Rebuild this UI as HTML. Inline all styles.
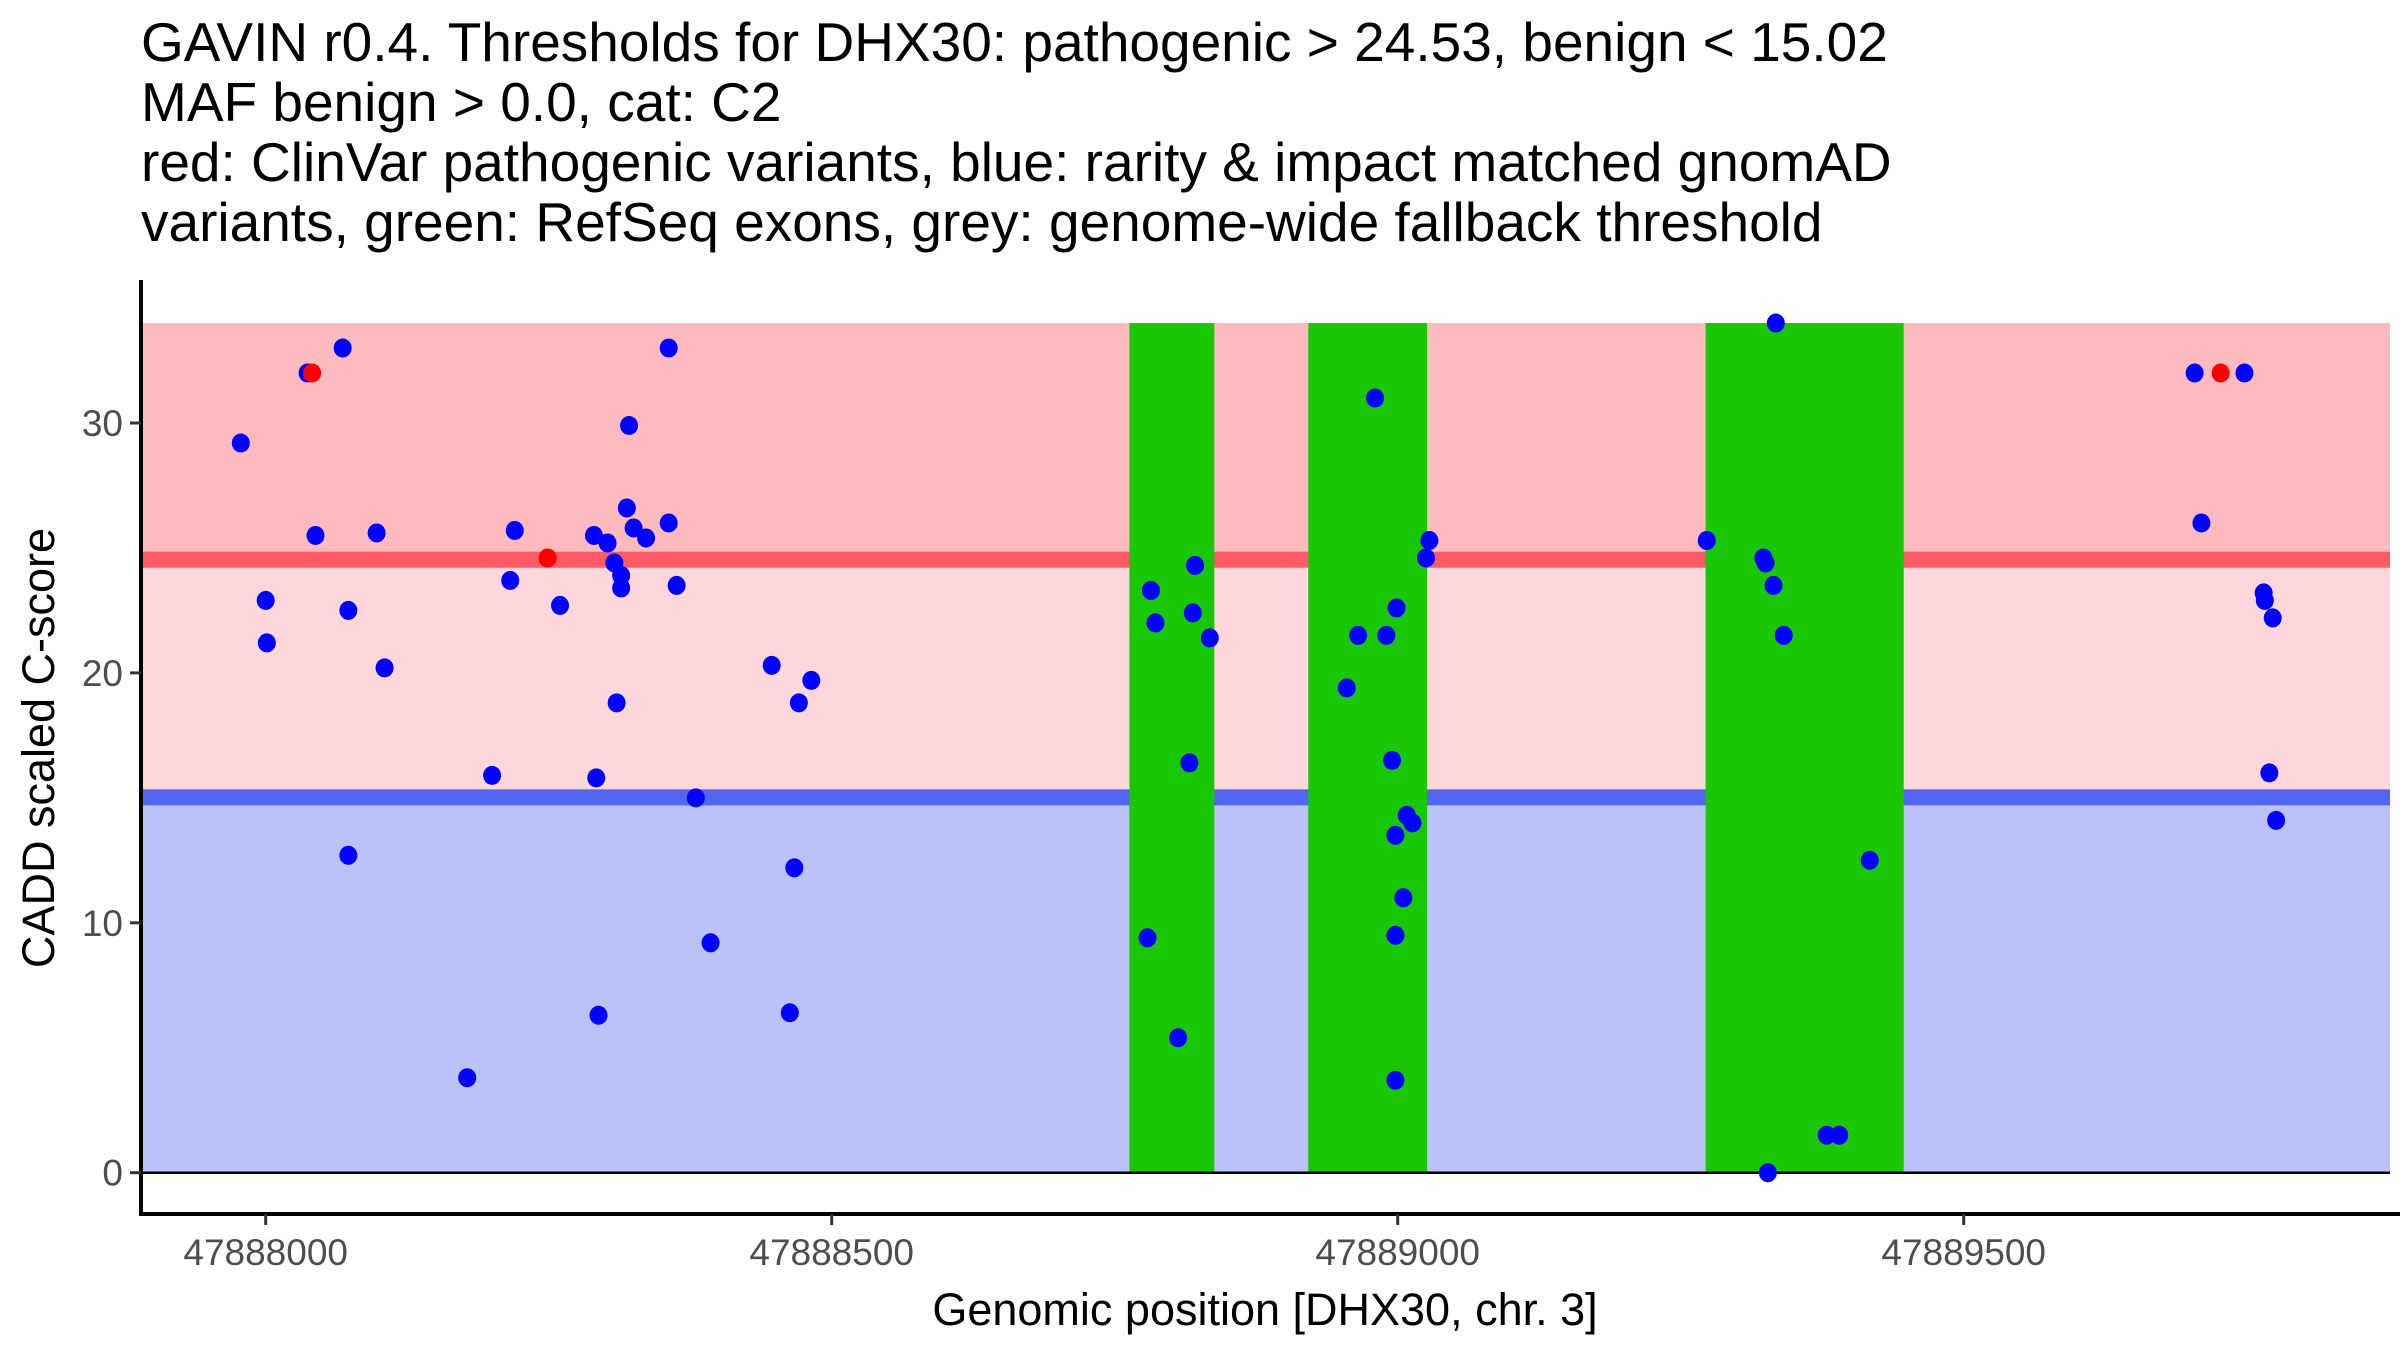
<!DOCTYPE html>
<html><head><meta charset="utf-8"><style>
html,body{margin:0;padding:0;background:#fff;}
svg{display:block;font-family:"Liberation Sans",Arial,sans-serif;}
</style></head><body>
<svg id="chart" width="2400" height="1350" viewBox="0 0 2400 1350" xmlns="http://www.w3.org/2000/svg">
<g font-size="55" fill="#000">
<text x="141" y="61">GAVIN r0.4. Thresholds for DHX30: pathogenic &gt; 24.53, benign &lt; 15.02</text>
<text x="141" y="121">MAF benign &gt; 0.0, cat: C2</text>
<text x="141" y="181">red: ClinVar pathogenic variants, blue: rarity &amp; impact matched gnomAD</text>
<text x="141" y="241">variants, green: RefSeq exons, grey: genome-wide fallback threshold</text>
</g>
<g id="bg"></g>
<g id="exons"></g>
<g id="lines"></g>
<g id="pts"></g>
<g id="axes"></g>
<text x="1265" y="1325" font-size="45" text-anchor="middle">Genomic position [DHX30, chr. 3]</text>
<text transform="translate(54,748) rotate(-90)" font-size="45" text-anchor="middle">CADD scaled C-score</text>
</svg>
<script>
const xTicks = [47888000, 47888500, 47889000, 47889500];
const yTicks = [0, 10, 20, 30];
const pathoThreshold = 24.53;
const benignThreshold = 15.02;
const scoreMax = 34;
const exonStarts = [47888763, 47888921, 47889272];
const exonEnds = [47888838, 47889026, 47889447];
const blueX = [47887978,47888000,47888001,47888037,47888044,47888068,47888073,47888073,47888098,47888105,47888178,47888200,47888216,47888220,47888260,47888290,47888292,47888294,47888302,47888308,47888310,47888314,47888314,47888319,47888321,47888325,47888336,47888356,47888356,47888363,47888380,47888393,47888447,47888463,47888467,47888471,47888482,
47888779,47888782,47888786,47888806,47888816,47888819,47888821,47888834,
47888955,47888965,47888980,47888990,47888995,47888999,47888998,47888998,47888998,47889005,47889008,47889013,47889025,47889028,
47889273,47889323,47889325,47889332,47889334,47889341,47889327,47889379,47889390,47889417,
47889704,47889748,47889710,47889765,47889766,47889773,47889770,47889776];
const blueY = [29.2,22.9,21.2,32,25.5,33,22.5,12.7,25.6,20.2,3.8,15.9,23.7,25.7,22.7,25.5,15.8,6.3,25.2,24.4,18.8,23.9,23.4,26.6,29.9,25.8,25.4,33,26,23.5,15.0,9.2,20.3,6.4,12.2,18.8,19.7,
9.4,23.3,22.0,5.4,16.4,22.4,24.3,21.4,
19.4,21.5,31.0,21.5,16.5,22.6,13.5,9.5,3.7,11.0,14.3,14.0,24.6,25.3,
25.3,24.6,24.4,23.5,34.0,21.5,0,1.5,1.5,12.5,
32,32,26,23.2,22.9,22.2,16.0,14.1];
const redX = [47888041, 47888249, 47889727];
const redY = [32, 24.6, 32];

const NS='http://www.w3.org/2000/svg';
const X0=265.7, PXBP=1.132, Y0=1172.7, PXU=24.99;
const PL=141, PR=2390, PB=1214;
function xs(v){return X0+(v-47888000)*PXBP;}
function ys(v){return Y0-v*PXU;}
function mk(tag,attrs,parent){const e=document.createElementNS(NS,tag);for(const k in attrs)e.setAttribute(k,attrs[k]);parent.appendChild(e);return e;}
const bg=document.getElementById('bg');
let r;
r=mk('rect',{x:PL,y:ys(scoreMax),width:PR-PL,height:ys(pathoThreshold)-ys(scoreMax),fill:'#FDBBBF'},bg);


r=mk('rect',{x:PL,y:ys(pathoThreshold),width:PR-PL,height:ys(benignThreshold)-ys(pathoThreshold),fill:'#FDD7DB'},bg);


r=mk('rect',{x:PL,y:ys(benignThreshold),width:PR-PL,height:ys(0)-ys(benignThreshold),fill:'#BBC1F9'},bg);


const ln=document.getElementById('lines');
[[pathoThreshold,'#FF5A66','pathogenic-threshold-line'],[benignThreshold,'#5366F0','benign-threshold-line']].forEach(d=>{
const e=mk('rect',{x:PL,y:ys(d[0])-8,width:PR-PL,height:16,fill:d[1]},ln);


});
exonStarts.forEach((s,i)=>{const e=mk('rect',{x:xs(s),y:ys(scoreMax),width:xs(exonEnds[i])-xs(s),height:ys(0)-ys(scoreMax),fill:'#1AC705'},ln);

});
const zl=mk('line',{x1:PL,x2:PR,y1:ys(0),y2:ys(0),stroke:'#000','stroke-width':2.5},ln);


const pts=document.getElementById('pts');
blueX.forEach((v,i)=>{const c=mk('ellipse',{cx:xs(v),cy:ys(blueY[i]),rx:9,ry:9.5,fill:'#0000FF'},pts);

});
redX.forEach((v,i)=>{const c=mk('ellipse',{cx:xs(v),cy:ys(redY[i]),rx:9,ry:9.5,fill:'#FF0000'},pts);

});
const ax=document.getElementById('axes');
let a=mk('line',{x1:PL,x2:PL,y1:280,y2:PB+2,stroke:'#000','stroke-width':4},ax);


a=mk('line',{x1:PL-2,x2:PR+10,y1:PB,y2:PB,stroke:'#000','stroke-width':4},ax);


xTicks.forEach(t=>{const l=mk('line',{x1:xs(t),x2:xs(t),y1:PB,y2:PB+11,stroke:'#333','stroke-width':3},ax);


const tx=mk('text',{x:xs(t),y:PB+51,'font-size':37,'text-anchor':'middle',fill:'#4D4D4D'},ax);tx.textContent=t;

});
yTicks.forEach(t=>{const l=mk('line',{x1:PL-11,x2:PL,y1:ys(t),y2:ys(t),stroke:'#333','stroke-width':3},ax);


const tx=mk('text',{x:PL-18,y:ys(t)+13,'font-size':37,'text-anchor':'end',fill:'#4D4D4D'},ax);tx.textContent=t;

});
</script>
</body></html>
